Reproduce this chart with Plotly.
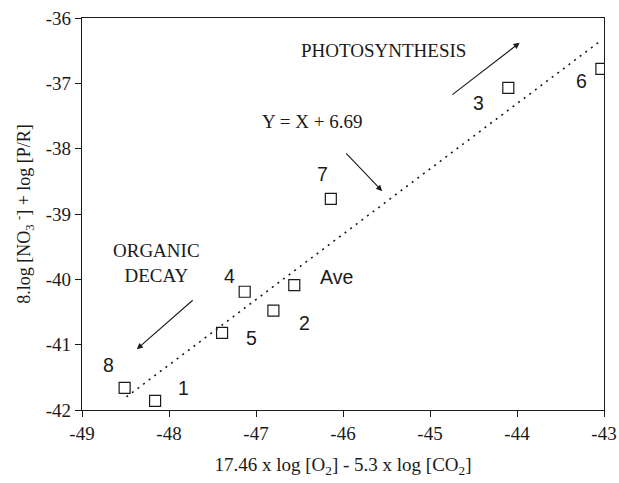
import plotly.graph_objects as go

# Sample points: 17.46 log[O2] - 5.3 log[CO2] vs 8 log[NO3-] + log[P/R]
labels = ["8", "1", "5", "4", "2", "Ave", "7", "3", "6"]
x_vals = [-48.51, -48.16, -47.39, -47.13, -46.80, -46.56, -46.14, -44.10, -43.03]
y_vals = [-41.66, -41.86, -40.82, -40.19, -40.48, -40.09, -38.77, -37.07, -36.78]

# Label anchor positions for each point
label_x = [-48.69, -47.83, -47.05, -47.30, -46.44, -46.07, -46.24, -44.44, -43.26]
label_y = [-41.31, -41.66, -40.90, -39.95, -40.67, -39.96, -38.39, -37.30, -36.96]

# Fitted line Y = X + 6.69
fit_intercept = 6.69
fit_x = [-48.49, -43.05]
fit_y = [v + fit_intercept for v in fit_x]

x_ticks = [-49, -48, -47, -46, -45, -44, -43]
y_ticks = [-42, -41, -40, -39, -38, -37, -36]

serif = "Liberation Serif, Times New Roman, serif"
sans = "Liberation Sans, Arial, sans-serif"
ink = "#1a1a1a"

fig = go.Figure()

fig.add_trace(go.Scatter(
    x=fit_x, y=fit_y, mode="lines",
    line=dict(color=ink, width=1.6, dash="2px,5px"),
    hoverinfo="skip", showlegend=False,
))

fig.add_trace(go.Scatter(
    x=x_vals, y=y_vals, mode="markers",
    marker=dict(symbol="square-open", size=11, color=ink, line=dict(width=1.2, color=ink)),
    showlegend=False,
))

for lab, lx, ly in zip(labels, label_x, label_y):
    fig.add_annotation(x=lx, y=ly, text=lab, showarrow=False,
                       font=dict(family=sans, size=19.5, color=ink))

fig.add_annotation(x=-45.53, y=-36.49, text="PHOTOSYNTHESIS", showarrow=False,
                   font=dict(family=serif, size=19, color=ink))
fig.add_annotation(x=-46.36, y=-37.59, text="Y = X + 6.69", showarrow=False,
                   font=dict(family=serif, size=19, color=ink))
fig.add_annotation(x=-48.14, y=-39.75, text="ORGANIC<br>DECAY", showarrow=False,
                   font=dict(family=serif, size=19, color=ink))

# Arrows (tail -> head)
arrows = [
    ((-44.76, -37.19), (-43.97, -36.38)),
    ((-45.98, -38.05), (-45.55, -38.65)),
    ((-47.71, -40.30), (-48.37, -41.07)),
]
for (tx, ty), (hx, hy) in arrows:
    fig.add_annotation(x=hx, y=hy, ax=tx, ay=ty, xref="x", yref="y",
                       axref="x", ayref="y", text="", showarrow=True,
                       arrowhead=2, arrowsize=1.1, arrowwidth=1.1, arrowcolor=ink)

fig.update_layout(
    width=619, height=483,
    margin=dict(l=82, r=15, t=18, b=73),
    plot_bgcolor="white", paper_bgcolor="white",
    font=dict(family=serif, size=19, color=ink),
)

fig.update_xaxes(
    range=[-49, -43], tickvals=x_ticks, ticktext=[str(v) for v in x_ticks],
    ticks="outside", ticklen=6, tickwidth=1, tickcolor=ink,
    showline=True, linecolor=ink, linewidth=1.2, mirror=True,
    showgrid=False, zeroline=False, automargin=False,
    tickfont=dict(family=serif, size=19, color=ink),
    title=dict(text="17.46 x log [O<sub>2</sub>] - 5.3 x log [CO<sub>2</sub>]",
               font=dict(family=serif, size=19, color=ink), standoff=14),
)
fig.update_yaxes(
    range=[-42, -36], tickvals=y_ticks, ticktext=[str(v) for v in y_ticks],
    ticks="outside", ticklen=6, tickwidth=1, tickcolor=ink,
    showline=True, linecolor=ink, linewidth=1.2, mirror=True,
    showgrid=False, zeroline=False, automargin=False,
    tickfont=dict(family=serif, size=19, color=ink),
    title=dict(text="8.log [NO<sub>3</sub> <sup>-</sup>] + log [P/R]",
               font=dict(family=serif, size=18, color=ink), standoff=10),
)

fig.write_html("out.html")
